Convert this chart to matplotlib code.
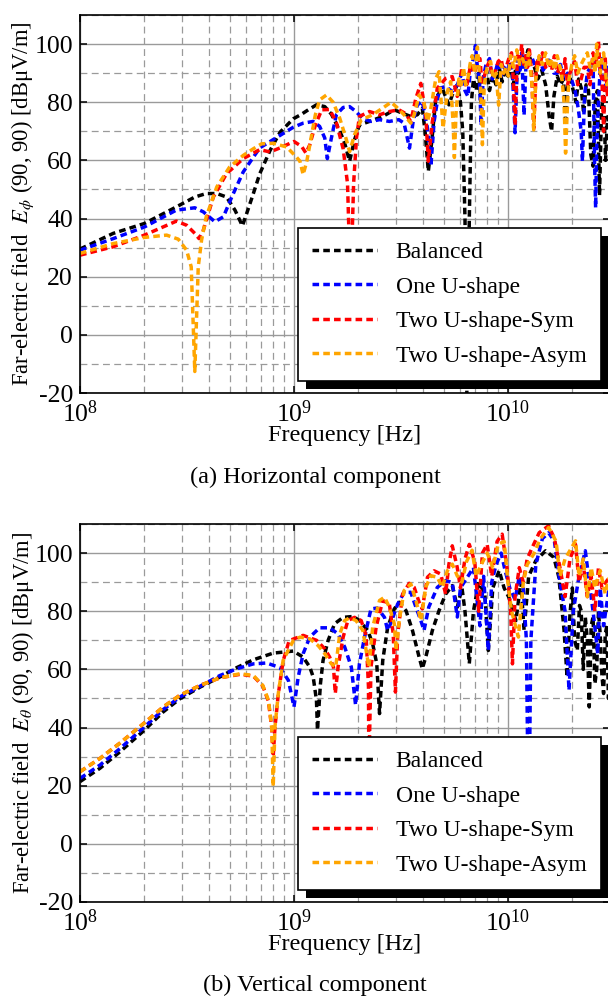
import numpy as np
import matplotlib
matplotlib.use("Agg")
import matplotlib.pyplot as plt
from matplotlib.ticker import LogLocator, MultipleLocator, NullFormatter
from matplotlib.patches import Rectangle

plt.rcParams['font.family'] = ['Liberation Serif', 'DejaVu Serif']
plt.rcParams['mathtext.fontset'] = 'stix'
plt.rcParams['axes.unicode_minus'] = False
plt.rcParams['font.size'] = 17

# ---- data (frequency in GHz, field in dBuV/m) ----
labels = ['Balanced', 'One U-shape', 'Two U-shape-Sym', 'Two U-shape-Asym']
colors = ['#000000', '#0000ff', '#ff0000', '#ffa500']

# (a) horizontal component E_phi
bal_top_f = [0.1, 0.143, 0.2, 0.282, 0.344, 0.389, 0.436, 0.484, 0.53, 0.574,
             0.601, 0.646, 0.692, 0.773, 0.861, 0.993, 1.086, 1.167, 1.274, 1.393,
             1.496, 1.637, 1.726, 1.82, 1.919, 2.023, 2.254, 2.6, 2.944, 3.22,
             3.516, 3.776, 3.98, 4.10, 4.246, 4.406, 4.603, 4.93, 5.3, 5.495,
             5.8, 6.0, 6.15, 6.3, 6.45, 6.6, 6.75, 6.9, 7.1, 7.3,
             7.5, 7.7, 7.95, 8.2, 8.5, 8.8, 9.1, 9.4, 9.7, 10.0,
             10.3, 10.6, 10.9, 11.2, 11.6, 12.0, 12.4, 12.8, 13.3, 13.8,
             14.4, 15.0, 15.6, 16.0, 16.4, 17.0, 17.6, 18.2, 18.6, 19.0,
             19.6, 20.2, 20.8, 21.4, 22.0, 22.6, 23.2, 23.8, 24.4, 25.0,
             25.6, 26.2, 26.8, 27.4, 28.0, 28.6, 29.2, 30]
bal_top_v = [29.5, 34.9, 38.3, 44, 47.4, 48.6, 48.6, 47.4, 42.9, 37.5,
             41.7, 48.6, 55.4, 63.4, 69.7, 74.3, 75.9, 77.4, 79.1, 78.5,
             75.9, 70.2, 65.9, 59.7, 67.1, 72.2, 73.4, 75.1, 77.4, 76.2,
             75.1, 75.7, 77.9, 70, 56.2, 66.5, 81.4, 84.8, 79.1, 82.5,
             86, 80, 70, 40, -30, 40, 80, 88, 84, 90,
             80, 88, 91, 84, 89, 86, 92, 87, 91, 89,
             93, 86, 92, 90, 96, 93, 98, 94, 92, 88,
             91, 86, 75, 70, 82, 89, 86, 88, 72, 85,
             88, 84, 80, 88, 85, 76, 86, 84, 62, 58,
             80, 84, 48, 78, 82, 60, 75, 70]

one_top_f = [0.1, 0.143, 0.2, 0.282, 0.344, 0.377, 0.427, 0.468, 0.512, 0.579,
             0.692, 0.861, 0.993, 1.104, 1.23, 1.318, 1.393, 1.432, 1.496, 1.578,
             1.698, 1.82, 1.95, 2.099, 2.291, 2.512, 2.793, 3.09, 3.27, 3.467,
             3.606, 3.776, 3.98, 4.207, 4.365, 4.519, 4.786, 5.117, 5.495, 5.8,
             6.1, 6.3, 6.5, 6.7, 6.9, 7.05, 7.2, 7.35, 7.5, 7.65,
             7.9, 8.2, 8.45, 8.7, 9.0, 9.3, 9.6, 9.9, 10.2, 10.5,
             10.8, 11.1, 11.4, 11.6, 11.9, 12.2, 12.6, 13.0, 13.5, 14.0,
             14.6, 15.2, 15.8, 16.4, 17.0, 17.6, 18.2, 19.0, 19.8, 20.6,
             21.3, 22.0, 22.3, 22.8, 23.5, 24.2, 25.0, 25.4, 25.7, 26.0,
             26.5, 27.0, 27.5, 28.0, 28.5, 29.2, 30]
one_top_v = [29.1, 33.1, 37.1, 42.9, 43.7, 42.3, 38.9, 40.6, 47.4, 56,
             64.3, 68.6, 71.4, 72.8, 73.4, 71.7, 67.7, 60.6, 67.7, 75.7,
             78.2, 78.5, 76.8, 74.3, 73.4, 74, 73.4, 74, 72.8, 64.2,
             73.4, 79.1, 80.2, 71.1, 58, 73.4, 84.8, 85.4, 83.7, 86,
             90, 84, 82, 92, 95, 99.5, 92, 88, 72, 88,
             93, 95, 88, 90, 94, 89, 92, 90, 94, 90,
             69.5, 95, 91, 97, 75.5, 97, 94, 95, 92, 96,
             91, 93, 95, 90, 90, 93, 88, 90, 88, 84,
             78, 70, 59.7, 82, 90, 92, 94, 60, 43.7, 65,
             80, 92, 95, 88, 85, 92, 88]

sym_top_f = [0.1, 0.143, 0.2, 0.282, 0.315, 0.344, 0.36, 0.377, 0.42, 0.484,
             0.579, 0.692, 0.773, 0.861, 1.0, 1.086, 1.138, 1.186, 1.259, 1.349,
             1.469, 1.578, 1.698, 1.78, 1.84, 1.90, 1.96, 2.023, 2.254, 2.512,
             2.793, 3.09, 3.31, 3.516, 3.715, 3.917, 4.13, 4.246, 4.436, 4.677,
             5.117, 5.495, 5.8, 6.1, 6.3, 6.4, 6.7, 7.0, 7.2, 7.4,
             7.55, 7.7, 7.95, 8.2, 8.45, 8.7, 9.0, 9.3, 9.55, 9.8,
             10.1, 10.4, 10.6, 10.8, 11.0, 11.1, 11.4, 11.6, 11.85, 12.1,
             12.35, 12.6, 12.9, 13.2, 13.5, 13.7, 14.1, 14.5, 15.0, 15.5,
             16.0, 16.5, 17.0, 17.5, 18.0, 18.5, 19.0, 19.5, 20.0, 20.5,
             21.2, 22.0, 22.7, 23.5, 24.2, 25.0, 25.7, 26.5, 27.0, 27.5,
             28.0, 28.5, 29.2, 30]
sym_top_v = [27.4, 30.3, 34.3, 39.1, 37.7, 34.9, 33.1, 36, 47.4, 55.4,
             60.6, 63.7, 62.9, 64.3, 66.5, 64.8, 62.5, 65.4, 72.2, 77.4,
             77.5, 73, 64, 52, 15, 52, 67.7, 75.1, 76.8, 75.7,
             76.8, 77.4, 76.2, 73.4, 81.4, 86.5, 75.7, 59.7, 73.4, 84.8,
             88.2, 88.8, 82, 92, 88, 85, 93, 90, 94, 95,
             87, 88, 92, 94, 89, 90, 94, 95, 90, 92,
             95, 97, 88, 72, 90, 96, 94, 100, 93, 96,
             92, 98, 90, 71, 88, 95, 92, 97, 92, 94,
             91, 96, 90, 92, 88, 95, 86, 90, 92, 94,
             86, 88, 92, 92, 86, 97, 92, 101, 90, 88,
             70, 95, 82, 90]

asym_top_f = [0.1, 0.143, 0.2, 0.254, 0.288, 0.315, 0.331, 0.344, 0.357, 0.37,
              0.389, 0.436, 0.5, 0.579, 0.646, 0.706, 0.8, 0.925, 1.028, 1.067,
              1.104, 1.148, 1.194, 1.259, 1.318, 1.419, 1.524, 1.637, 1.758, 1.82,
              1.919, 2.061, 2.333, 2.6, 2.844, 3.0, 3.27, 3.516, 3.648, 3.846,
              4.055, 4.207, 4.365, 4.603, 4.764, 4.977, 5.212, 5.4, 5.55, 5.62,
              5.72, 5.9, 6.05, 6.2, 6.35, 6.5, 6.65, 6.8, 7.0, 7.2,
              7.45, 7.6, 7.75, 8.0, 8.3, 8.55, 8.8, 9.05, 9.3, 9.55,
              9.8, 10.05, 10.3, 10.65, 11.0, 11.35, 11.7, 12.1, 12.5, 13.0,
              13.2, 13.5, 14.0, 14.5, 15.0, 15.5, 16.0, 16.5, 17.0, 17.8,
              18.3, 18.6, 19.0, 19.3, 19.9, 20.5, 21.2, 22.0, 22.7, 23.5,
              24.2, 25.0, 25.5, 26.0, 26.5, 27.0, 27.5, 28.0, 29.0, 30]
asym_top_v = [28, 31.4, 33.5, 34.3, 32.9, 29.1, 23.4, -12.6, 23.4, 32.6,
              40.6, 50.9, 57.7, 61.7, 64, 65.7, 65.9, 64.6, 61.1, 59.7,
              55.1, 59.7, 66.5, 75.7, 80.8, 82.5, 80, 74.5, 67.1, 63,
              68.8, 73.9, 75.7, 78, 80, 78.5, 75.7, 72.8, 75.7, 82.5,
              79.7, 73.4, 78, 88.2, 90.5, 71.1, 83.7, 87.1, 72, 61,
              76, 88, 86, 92, 86, 88, 93, 96, 90, 99,
              85, 65.4, 86, 92, 94, 88, 90, 79, 93, 90,
              92, 89, 96, 92, 98, 93, 95, 92, 97, 85,
              70.5, 88, 96, 93, 97, 92, 95, 91, 96, 90,
              80, 62.5, 80, 88, 93, 96, 90, 93, 95, 97,
              92, 95, 90, 100, 92, 90, 95, 97, 86, 88]

# (b) vertical component E_theta
bal_bot_f = [0.1, 0.124, 0.154, 0.2, 0.245, 0.293, 0.364, 0.451, 0.54, 0.646,
             0.8, 0.993, 1.104, 1.186, 1.23, 1.274, 1.288, 1.33, 1.368, 1.445,
             1.549, 1.698, 1.888, 2.023, 2.213, 2.333, 2.438, 2.512, 2.6, 2.742,
             2.944, 3.105, 3.34, 3.58, 3.846, 3.98, 4.13, 4.436, 4.764, 5.117,
             5.495, 5.8, 6.1, 6.3, 6.6, 6.9, 7.3, 7.8, 8.1, 8.5,
             9.1, 9.6, 10.1, 10.9, 11.5, 11.9, 12.5, 13.5, 15, 16.4,
             17.3, 18.3, 18.9, 19.5, 20, 20.5, 21.1, 21.6, 22, 22.5,
             23.0, 23.5, 24, 24.5, 25, 25.5, 26, 26.5, 27, 27.5,
             28, 28.5, 29, 29.5, 30]
bal_bot_v = [21.4, 26, 31.7, 39.1, 45.4, 49.9, 53.9, 57.4, 60.6, 63.3,
             65.6, 66.3, 64.2, 60.8, 57.4, 49.4, 39.1, 55.1, 63.1, 70,
             75.7, 77.9, 78.2, 76.8, 73.4, 68.8, 61.9, 44.8, 63.1, 74.5,
             80.8, 83.1, 80.2, 73.4, 64.2, 60.2, 64.2, 73.4, 80.2, 85.9,
             88.8, 81.4, 88, 80, 62, 80, 90, 86, 66.5, 88,
             94, 88, 84.8, 76.8, 90, 73.4, 92, 97.4, 100.8, 98.5,
             91.7, 73.4, 57.4, 79, 88, 70, 66.5, 82, 80.2, 60,
             78, 70, 47.1, 75, 78, 55, 60, 80, 72, 58,
             51.7, 72, 75, 50, 55]

one_bot_f = [0.1, 0.124, 0.154, 0.2, 0.245, 0.293, 0.364, 0.451, 0.54, 0.646,
             0.745, 0.861, 0.942, 1.0, 1.047, 1.104, 1.186, 1.318, 1.469, 1.607,
             1.726, 1.854, 1.941, 2.023, 2.138, 2.291, 2.455, 2.649, 2.742, 2.844,
             3.055, 3.273, 3.516, 3.715, 3.917, 4.055, 4.266, 4.677, 5.117, 5.495,
             5.8, 6.0, 6.5, 6.9, 7.4, 7.7, 8.1, 8.4, 8.8, 9.3,
             9.7, 10.2, 10.8, 11.3, 11.8, 12.2, 12.5, 12.8, 13.5, 14.5,
             15.5, 16.5, 17.5, 18.5, 19.3, 20.2, 21.5, 23, 24, 25,
             26.3, 27, 28, 30]
one_bot_v = [22.5, 27.1, 32.8, 40.2, 46.2, 50.5, 54.2, 57.9, 60.2, 61.9,
             62.2, 60.6, 56.2, 47.1, 57.4, 65.4, 71.1, 74.3, 74.3, 72.2,
             67.7, 60.8, 47.7, 61.9, 71.1, 80.8, 81.1, 77.9, 73.4, 76.2,
             82.5, 86.5, 86.5, 81.4, 76.8, 73.4, 81.4, 88.2, 90.5, 89.9,
             78, 88, 92, 95, 75, 92, 66.5, 90, 96, 100,
             94, 88, 84, 92, 88, 70, 0, 70, 96, 105,
             107, 104, 90, 80, 52.8, 80, 92, 100.8, 90, 80,
             65.4, 88, 75, 90]

sym_bot_f = [0.1, 0.124, 0.154, 0.2, 0.245, 0.293, 0.364, 0.451, 0.56, 0.646,
             0.715, 0.76, 0.787, 0.80, 0.815, 0.845, 0.89, 0.95, 1.104, 1.274,
             1.393, 1.469, 1.53, 1.56, 1.607, 1.698, 1.786, 1.919, 2.061, 2.173,
             2.23, 2.239, 2.291, 2.421, 2.6, 2.793, 2.91, 2.98, 3.055, 3.22,
             3.459, 3.648, 3.846, 3.98, 4.207, 4.519, 4.853, 5.117, 5.3, 5.495,
             5.794, 6.0, 6.3, 6.6, 7.0, 7.3, 7.6, 8.0, 8.4, 8.9,
             9.4, 9.9, 10.3, 10.5, 10.8, 11.3, 11.8, 12.3, 13.2, 14.0,
             15.5, 16.5, 17.5, 18.5, 19.5, 20.7, 21.5, 22.5, 23.5, 24.5,
             25.5, 26.5, 27.5, 30]
sym_bot_v = [24.8, 29.4, 34.7, 41.6, 47.1, 51.1, 54.5, 57.1, 58.3, 57.7,
             54.3, 49, 40, 30, 40, 51.5, 62.9, 69.9, 71.7, 70,
             67.1, 64.2, 60.8, 51.7, 60.8, 71.1, 76.8, 77.9, 76.8, 71.7,
             53.9, 25, 60.8, 74.5, 83.7, 82.5, 72.2, 52.2, 72.2, 85.9,
             89.6, 88.2, 83.1, 80.8, 91.7, 93.9, 92.8, 85.9, 96.2, 102.5,
             95.1, 88, 98, 103, 97, 80, 100, 103, 92, 104,
             106.5, 95, 80, 61.9, 85, 95, 90, 98, 103, 107,
             109.4, 105, 95, 85, 98, 103, 90, 96, 85, 92,
             80, 95, 88, 92]

asym_bot_f = [0.1, 0.124, 0.154, 0.2, 0.245, 0.293, 0.364, 0.451, 0.56, 0.646,
              0.715, 0.76, 0.787, 0.80, 0.815, 0.845, 0.89, 0.993, 1.067, 1.186,
              1.297, 1.393, 1.496, 1.567, 1.637, 1.726, 1.82, 1.95, 2.099, 2.239,
              2.333, 2.512, 2.649, 2.793, 2.944, 3.0, 3.105, 3.273, 3.516, 3.715,
              3.917, 4.13, 4.365, 4.677, 4.93, 5.212, 5.495, 5.794, 6.1, 6.4,
              6.8, 7.1, 7.5, 8.0, 8.5, 9.0, 9.6, 10.0, 10.4, 11.2,
              11.8, 12.3, 13.2, 14.2, 15.5, 16.8, 17.5, 18.5, 20.7, 21.5,
              22.5, 23.5, 24.5, 25.5, 27, 28.5, 30]
asym_bot_v = [24.8, 29.4, 34.7, 41.6, 47.1, 51.1, 54.5, 57.1, 58.5, 57.9,
              54.5, 49.4, 40.2, 19.7, 40.2, 51.7, 63.1, 69.9, 71.1, 70.5,
              68.2, 65.4, 61.9, 60.8, 72.2, 76.8, 77.7, 76.8, 73.4, 60.8,
              74.5, 83.7, 84.8, 81.4, 75.7, 66.5, 76.8, 87.1, 89.4, 83.7,
              76.8, 88.2, 92.2, 91.7, 88.2, 93.9, 96.2, 92.2, 90, 97,
              101, 92, 96, 100, 95, 103, 104, 90, 80, 71.1,
              90, 96, 99.7, 105, 108.8, 104, 92, 98, 104.2, 92,
              98, 85, 95, 88, 94, 86, 93]

panels = [
    dict(series=[(bal_top_f, bal_top_v), (one_top_f, one_top_v),
                 (sym_top_f, sym_top_v), (asym_top_f, asym_top_v)],
         ylabel='Far-electric field  $E_\\phi$ (90, 90) [dBμV/m]',
         caption='(a) Horizontal component'),
    dict(series=[(bal_bot_f, bal_bot_v), (one_bot_f, one_bot_v),
                 (sym_bot_f, sym_bot_v), (asym_bot_f, asym_bot_v)],
         ylabel='Far-electric field  $E_\\theta$ (90, 90) [dBμV/m]',
         caption='(b) Vertical component'),
]

W, H = 608, 999
fig = plt.figure(figsize=(W / 100, H / 100), dpi=100)

# axes boxes in pixels: left, top, right, bottom
boxes = [(80, 15, 610, 393), (80, 524, 610, 902)]
caption_y = [477, 985]

legs = []
axes = []
for p, (l, t, r, b), cy in zip(panels, boxes, caption_y):
    ax = fig.add_axes([l / W, 1 - b / H, (r - l) / W, (b - t) / H])
    axes.append(ax)
    for (f, v), c, lab in zip(p['series'], colors, labels):
        ax.plot(np.array(f) * 1e9, v, color=c, lw=2.5,
                linestyle=(0, (1.9, 1.2)), label=lab)
    ax.set_xscale('log')
    ax.set_xlim(1e8, 3e10)
    ax.set_ylim(-20, 110)
    ax.set_yticks(np.arange(-20, 101, 20))
    ax.yaxis.set_minor_locator(MultipleLocator(10))
    ax.xaxis.set_minor_locator(LogLocator(base=10, subs=np.arange(2, 10)))
    ax.xaxis.set_minor_formatter(NullFormatter())
    ax.grid(which='major', color='#9a9a9a', lw=1.0, ls='-')
    ax.grid(which='minor', color='#9a9a9a', lw=0.9, ls=(0, (5.5, 3.5)))
    ax.set_axisbelow(True)
    ax.tick_params(which='major', direction='in', length=5, width=1.1,
                   top=True, right=True, labelsize=18.5, pad=5)
    ax.tick_params(which='minor', length=0)
    for s in ax.spines.values():
        s.set_linewidth(1.2)
    ax.set_xlabel('Frequency [Hz]', fontsize=17.5)
    ax.xaxis.set_label_coords(0.5, -0.085)
    ax.set_ylabel(p['ylabel'], fontsize=16.3)
    ax.yaxis.set_label_coords(-0.083, 0.5)
    leg = ax.legend(loc='lower left', bbox_to_anchor=(0.411, 0.032),
                    fancybox=False, framealpha=1, edgecolor='black',
                    fontsize=17, handlelength=2.75, handletextpad=0.8,
                    labelspacing=0.55, borderpad=0.6, borderaxespad=0)
    leg.get_frame().set_linewidth(1.2)
    legs.append(leg)
    fig.text(0.518, 1 - cy / H, p['caption'], ha='center', va='center', fontsize=17.5)

# black drop shadow behind each legend box
fig.canvas.draw()
for ax, leg in zip(axes, legs):
    bb = leg.get_window_extent()
    sh = Rectangle((bb.x0 + 8, bb.y0 - 8), bb.width, bb.height, transform=None,
                   facecolor='black', edgecolor='none', clip_on=False,
                   zorder=leg.get_zorder() - 0.5)
    ax.add_artist(sh)

fig.savefig('out.png', dpi=100)
